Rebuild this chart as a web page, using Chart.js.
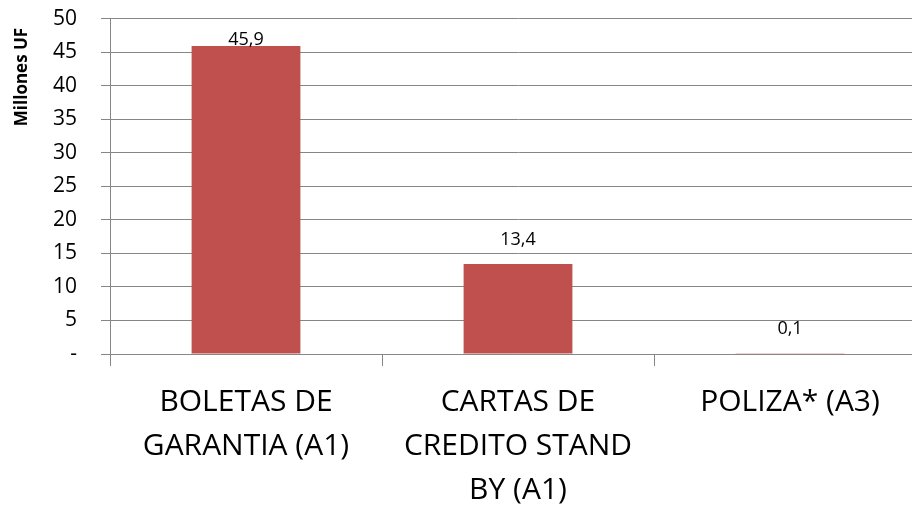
<!DOCTYPE html>
<html>
<head>
<meta charset="utf-8">
<script src="https://cdn.jsdelivr.net/npm/chart.js@4.4.0/dist/chart.umd.min.js"></script>
<style>
  html, body { margin: 0; padding: 0; background: #fff; overflow: hidden; }
  #wrap { width: 930px; height: 530px; position: relative; margin-top: -18px; }
</style>
</head>
<body>
<div id="wrap"><canvas id="chart"></canvas></div>
<script>
// data
const categories = [
    ['BOLETAS DE', 'GARANTIA (A1)'],
    ['CARTAS DE', 'CREDITO STAND', 'BY (A1)'],
    ['POLIZA* (A3)']
];
const montos = [45.9, 13.4, 0.1];
const yTicks = [0, 5, 10, 15, 20, 25, 30, 35, 40, 45, 50];
const yTitle = 'Millones UF';

const grey = '#868686';
const font = 'Open Sans';

// value labels above bars, comma decimal
const valueLabels = {
    id: 'valueLabels',
    afterDatasetsDraw(chart) {
        const ctx = chart.ctx;
        const meta = chart.getDatasetMeta(0);
        ctx.save();
        ctx.font = '18px "' + font + '"';
        ctx.fillStyle = '#000';
        ctx.textAlign = 'center';
        ctx.textBaseline = 'bottom';
        meta.data.forEach((bar, i) => {
            const txt = montos[i].toFixed(1).replace('.', ',');
            const y = Math.max(bar.y - 15, chart.chartArea.top + 30);
            ctx.fillText(txt, bar.x, y);
        });
        ctx.restore();
    }
};

// y title sits near the top, not centred (canvas is shifted up 18px)
const yTitlePlugin = {
    id: 'yTitlePlugin',
    afterDraw(chart) {
        const ctx = chart.ctx;
        ctx.save();
        ctx.translate(22, 77 + 18);
        ctx.rotate(-Math.PI / 2);
        ctx.font = 'bold 17px "' + font + '"';
        ctx.fillStyle = '#000';
        ctx.textAlign = 'center';
        ctx.textBaseline = 'middle';
        ctx.fillText(yTitle, 0, 0);
        ctx.restore();
    }
};

new Chart(document.getElementById('chart').getContext('2d'), {
    type: 'bar',
    data: {
        labels: categories,
        datasets: [{
            data: montos,
            backgroundColor: '#C0504D',
            barPercentage: 0.4,
            categoryPercentage: 1.0
        }]
    },
    options: {
        responsive: true,
        maintainAspectRatio: false,
        animation: false,
        layout: { padding: { top: 0, right: 4, left: 0, bottom: 0 } },
        plugins: { legend: { display: false }, tooltip: { enabled: false } },
        scales: {
            x: {
                grid: { display: true, drawOnChartArea: false, color: grey, tickLength: 12, offset: true },
                border: { color: grey, width: 1 },
                ticks: {
                    color: '#000',
                    font: { family: font, size: 30, lineHeight: 1.47 },
                    padding: 14,
                    maxRotation: 0,
                    autoSkip: false
                },
                afterFit(scale) { scale.height = 158; }
            },
            y: {
                min: 0,
                max: 50,
                afterBuildTicks(scale) { scale.ticks = yTicks.map(v => ({ value: v })); },
                grid: { color: grey, tickLength: 9 },
                border: { color: grey, width: 1 },
                ticks: {
                    color: '#000',
                    font: { family: font, size: 21 },
                    padding: 24,
                    callback: v => v === 0 ? '-' : v
                },
                afterFit(scale) { scale.width = 110; }
            }
        }
    },
    plugins: [valueLabels, yTitlePlugin]
});
</script>
</body>
</html>
